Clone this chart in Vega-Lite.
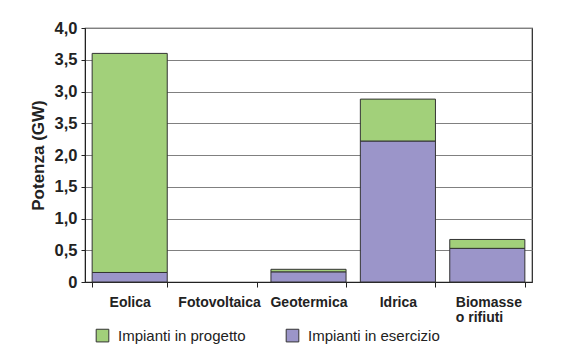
{
  "$schema": "https://vega.github.io/schema/vega-lite/v6.json",
  "width": 447,
  "height": 254,
  "autosize": {"type": "none"},
  "padding": {"left": 85, "top": 28, "right": 36, "bottom": 62},
  "background": "white",
  "config": {
    "font": "Liberation Sans",
    "view": {"stroke": "#222222", "strokeWidth": 1.2}
  },
  "data": {
    "values": [
      {"fonte": "Eolica", "serie": "Impianti in esercizio", "gw": 0.15},
      {"fonte": "Eolica", "serie": "Impianti in progetto", "gw": 3.45},
      {"fonte": "Fotovoltaica", "serie": "Impianti in esercizio", "gw": null},
      {"fonte": "Fotovoltaica", "serie": "Impianti in progetto", "gw": null},
      {"fonte": "Geotermica", "serie": "Impianti in esercizio", "gw": 0.16},
      {"fonte": "Geotermica", "serie": "Impianti in progetto", "gw": 0.04},
      {"fonte": "Idrica", "serie": "Impianti in esercizio", "gw": 2.22},
      {"fonte": "Idrica", "serie": "Impianti in progetto", "gw": 0.66},
      {"fonte": "Biomasse o rifiuti", "serie": "Impianti in esercizio", "gw": 0.53},
      {"fonte": "Biomasse o rifiuti", "serie": "Impianti in progetto", "gw": 0.14}
    ]
  },
  "mark": {"type": "bar", "stroke": "#333333", "strokeWidth": 1},
  "encoding": {
    "x": {
      "field": "fonte",
      "type": "nominal",
      "sort": null,
      "scale": {
        "domain": ["Eolica", "Fotovoltaica", "Geotermica", "Idrica", "Biomasse o rifiuti"],
        "paddingInner": 0.16,
        "paddingOuter": 0.08
      },
      "axis": {
        "title": null,
        "labelAngle": 0,
        "labelFont": "Liberation Sans",
        "labelFontSize": 14,
        "labelFontWeight": "bold",
        "labelColor": "#222222",
        "labelPadding": 8,
        "labelLineHeight": 15,
        "labelBaseline": "top",
        "labelExpr": "datum.value == 'Biomasse o rifiuti' ? ['Biomasse', 'o rifiuti'] : datum.value",
        "labelAlign": {"condition": {"test": "datum.value == 'Biomasse o rifiuti'", "value": "left"}, "value": "center"},
        "labelOffset": {"condition": {"test": "datum.value == 'Biomasse o rifiuti'", "value": -32}, "value": 0},
        "tickBand": "extent",
        "tickSize": 5,
        "tickColor": "#222222",
        "domainColor": "#222222",
        "labelLimit": 200
      }
    },
    "y": {
      "field": "gw",
      "type": "quantitative",
      "stack": "zero",
      "scale": {"domain": [0, 4], "nice": false},
      "axis": {
        "title": "Potenza (GW)",
        "titleFont": "Liberation Sans",
        "titleFontSize": 17,
        "titleFontWeight": "bold",
        "titleColor": "#222222",
        "titlePadding": 7,
        "values": [0, 0.5, 1, 1.5, 2, 2.5, 3, 3.5, 4],
        "labelExpr": "datum.value == 0 ? '0' : (datum.value == 2.5 ? '3,5' : replace(format(datum.value, '.1f'), '.', ','))",
        "labelFont": "Liberation Sans",
        "labelFontSize": 16.5,
        "labelFontWeight": "bold",
        "labelColor": "#222222",
        "labelPadding": 4,
        "tickSize": 4,
        "tickColor": "#222222",
        "domainColor": "#222222",
        "gridColor": "#808080",
        "gridWidth": 1.2
      }
    },
    "color": {
      "field": "serie",
      "type": "nominal",
      "sort": ["Impianti in progetto", "Impianti in esercizio"],
      "scale": {"domain": ["Impianti in progetto", "Impianti in esercizio"], "range": ["#A2D07A", "#9B95C9"]},
      "legend": {
        "title": null,
        "orient": "none",
        "legendX": 10,
        "legendY": 300,
        "direction": "horizontal",
        "symbolType": "square",
        "symbolSize": 160,
        "symbolStrokeColor": "#333333",
        "symbolStrokeWidth": 1,
        "symbolOpacity": 1,
        "labelFont": "Liberation Sans",
        "labelFontSize": 15,
        "labelColor": "#222222",
        "labelOffset": 8,
        "columnPadding": 38
      }
    },
    "order": {"field": "serie", "sort": "ascending"}
  }
}
